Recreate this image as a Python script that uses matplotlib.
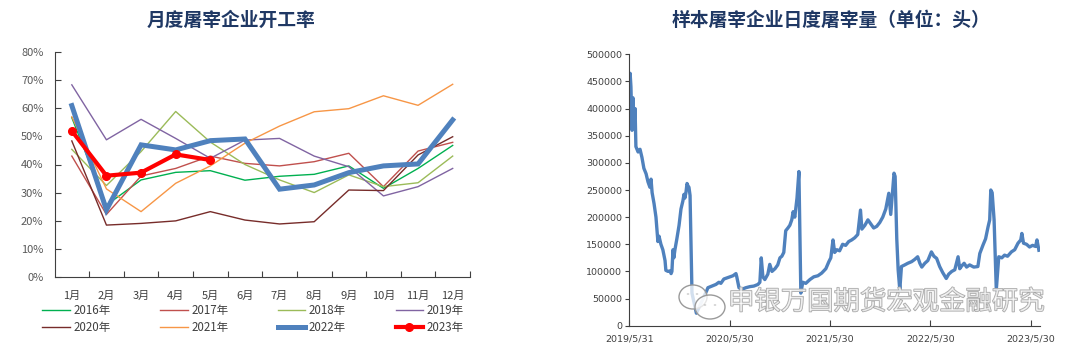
import matplotlib
matplotlib.use("Agg")
import matplotlib.pyplot as plt
import matplotlib.patheffects as pe
from matplotlib.patches import Ellipse, Circle
from matplotlib.ticker import FuncFormatter, MultipleLocator
import pandas as pd

plt.rcParams['font.family'] = ['Noto Sans CJK SC', 'DejaVu Sans']

# ---------------- data: left chart ----------------
months = ['1月', '2月', '3月', '4月', '5月', '6月', '7月', '8月', '9月', '10月', '11月', '12月']
y2016 = [56.7, 25.5, 34.5, 37.2, 37.8, 34.4, 35.8, 36.5, 39.5, 31.5, 38.6, 46.8]
y2017 = [43.0, 22.2, 35.9, 38.6, 43.0, 40.4, 39.5, 41.0, 44.0, 32.1, 44.8, 47.9]
y2018 = [45.4, 32.5, 44.6, 58.9, 48.0, 40.0, 34.5, 30.0, 36.3, 32.1, 33.5, 43.0]
y2019 = [68.4, 48.8, 56.1, 49.3, 42.2, 48.7, 49.3, 43.0, 39.2, 28.8, 32.1, 38.6]
y2020 = [48.4, 18.4, 19.0, 19.9, 23.2, 20.2, 18.8, 19.6, 30.9, 30.7, 43.4, 49.9]
y2021 = [57.0, 31.3, 23.2, 33.3, 39.5, 47.6, 53.7, 58.8, 59.9, 64.5, 61.1, 68.6]
y2022 = [61.0, 23.8, 47.0, 45.2, 48.5, 49.1, 31.2, 32.7, 37.1, 39.5, 40.2, 55.9]
y2023 = [52.0, 36.0, 37.1, 43.6, 41.6]
series_labels = ['2016年', '2017年', '2018年', '2019年', '2020年', '2021年', '2022年', '2023年']

# ---------------- data: right chart (days since 2019-05-31, heads) ----------------
start_date = '2019-05-31'
day_offsets = [0, 3, 6, 10, 13, 17, 21, 24, 32, 39, 46, 53, 61, 68, 75, 79, 83, 90, 97, 101,
               104, 108, 115, 122, 130, 133, 141, 148, 152, 155, 159, 162, 166, 173, 181, 188,
               195, 199, 202, 206, 210, 213, 217, 221, 228, 244, 282, 286, 300, 315, 326, 333,
               344, 355, 366, 377, 388, 391, 399, 409, 424, 439, 453, 468, 475, 480, 486, 493,
               504, 511, 519, 530, 540, 548, 555, 562, 569, 577, 584, 591, 596, 602, 610, 617,
               624, 631, 642, 657, 671, 686, 700, 715, 726, 733, 741, 747, 755, 765, 776, 787,
               798, 809, 820, 831, 841, 846, 857, 868, 878, 889, 900, 911, 922, 933, 944, 951,
               958, 963, 967, 973, 978, 984, 990, 1002, 1013, 1027, 1038, 1049, 1057, 1064,
               1075, 1086, 1099, 1108, 1118, 1129, 1140, 1153, 1162, 1173, 1184, 1196, 1202,
               1209, 1218, 1227, 1238, 1253, 1268, 1275, 1287, 1296, 1305, 1311, 1315, 1320,
               1327, 1335, 1344, 1355, 1365, 1376, 1390, 1402, 1414, 1424, 1428, 1434, 1445,
               1456, 1467, 1478, 1483, 1490]
slaughter = [455000, 465000, 440000, 360000, 420000, 370000, 400000, 330000, 320000, 325000,
             310000, 290000, 280000, 265000, 255000, 270000, 245000, 225000, 200000, 175000,
             155000, 165000, 150000, 140000, 120000, 102000, 100000, 101000, 96000, 100000,
             140000, 125000, 140000, 160000, 185000, 215000, 230000, 242000, 235000, 245000,
             262000, 258000, 255000, 240000, 60000, 23000, 65000, 70000, 73000, 76000, 80000,
             78000, 86000, 88000, 90000, 92000, 96000, 90000, 70000, 67000, 70000, 72000,
             73000, 76000, 80000, 125000, 90000, 85000, 95000, 113000, 100000, 105000, 112000,
             125000, 128000, 135000, 175000, 180000, 185000, 195000, 210000, 200000, 235000,
             284000, 60000, 80000, 78000, 85000, 90000, 92000, 97000, 105000, 118000, 125000,
             158000, 135000, 140000, 138000, 150000, 148000, 155000, 158000, 162000, 168000,
             213000, 178000, 185000, 195000, 188000, 180000, 183000, 190000, 200000, 215000,
             244000, 205000, 250000, 281000, 275000, 160000, 103000, 66000, 109000, 112000,
             115000, 118000, 122000, 127000, 115000, 108000, 115000, 120000, 136000, 128000,
             124000, 109000, 98000, 87000, 95000, 100000, 103000, 127000, 105000, 110000,
             115000, 108000, 112000, 108000, 109000, 133000, 149000, 160000, 182000, 195000,
             250000, 245000, 195000, 66000, 127000, 125000, 130000, 128000, 136000, 140000,
             152000, 158000, 170000, 152000, 150000, 145000, 148000, 146000, 158000, 139000]
right_ticks = ['2019-05-31', '2020-05-30', '2021-05-30', '2022-05-30', '2023-05-30']

# ---------------- figure ----------------
W, H = 1080, 352
fig = plt.figure(figsize=(W / 100, H / 100), dpi=100)
fig.patch.set_facecolor('white')

def fx(px):
    return px / W

def fy(py):
    return 1 - py / H

title_color = '#1F3864'
tick_color = '#595959'

# ---- left axes ----
axL = fig.add_axes([fx(54.5), fy(276.7), fx(470 - 54.5), (276.7 - 52.3) / H])
xs = list(range(len(months)))
colors = ['#00B050', '#C0504D', '#9BBB59', '#8064A2', '#772C2A', '#F79646', '#4F81BD', '#FF0000']
all_y = [y2016, y2017, y2018, y2019, y2020, y2021, y2022, y2023]
handles = []
for i, (yy, c, lab) in enumerate(zip(all_y, colors, series_labels)):
    if lab == '2022年':
        h, = axL.plot(xs[:len(yy)], yy, color=c, lw=3.6, label=lab, solid_joinstyle='miter', zorder=3)
    elif lab == '2023年':
        h, = axL.plot(xs[:len(yy)], yy, color=c, lw=3.0, marker='o', ms=5.5, label=lab, zorder=4)
    else:
        h, = axL.plot(xs[:len(yy)], yy, color=c, lw=1.0, label=lab, zorder=2)
    handles.append(h)

axL.set_xlim(-0.5, 11.5)
axL.set_ylim(0, 80)
axL.yaxis.set_major_locator(MultipleLocator(10))
axL.yaxis.set_major_formatter(FuncFormatter(lambda v, p: f'{int(round(v))}%'))
axL.set_xticks([x + 0.5 for x in xs])
axL.set_xticklabels([])
axL.set_xticks(xs, minor=True)
axL.set_xticklabels(months, minor=True)
axL.tick_params(axis='x', which='minor', length=0, pad=10, labelsize=8, labelcolor='#404040')
axL.tick_params(axis='x', which='major', direction='in', length=4, width=0.8, color='#404040')
axL.tick_params(axis='y', direction='in', length=4, width=0.8, color='#404040', labelsize=8,
                labelcolor=tick_color, pad=8)
for s in ['top', 'right']:
    axL.spines[s].set_visible(False)
for s in ['left', 'bottom']:
    axL.spines[s].set_color('#404040')
    axL.spines[s].set_linewidth(0.8)

order = [0, 4, 1, 5, 2, 6, 3, 7]
leg = fig.legend([handles[i] for i in order], [series_labels[i] for i in order],
                 loc='upper left', bbox_to_anchor=(fx(42), fy(304)), ncol=4, frameon=False,
                 fontsize=8.3, handlelength=2.4, handletextpad=0.3, columnspacing=4.3,
                 labelspacing=0.35, borderpad=0, borderaxespad=0)
for t in leg.get_texts():
    t.set_color('#404040')

fig.text(fx(231), fy(20), '月度屠宰企业开工率', ha='center', va='center', fontsize=13.5,
         fontweight='bold', color=title_color)

# ---- right axes ----
axR = fig.add_axes([fx(629.3), fy(325.7), fx(1040 - 629.3), (325.7 - 54.3) / H])
base = pd.Timestamp(start_date)
dates = [base + pd.Timedelta(days=d) for d in day_offsets]
axR.plot(dates, slaughter, color='#4F81BD', lw=2.4, solid_joinstyle='round', zorder=2)
axR.set_ylim(0, 500000)
axR.yaxis.set_major_locator(MultipleLocator(50000))
axR.yaxis.set_major_formatter(FuncFormatter(lambda v, p: f'{int(v)}'))
axR.set_xlim(base, base + pd.Timedelta(days=1494))
tick_dates = [pd.Timestamp(t) for t in right_ticks]
axR.set_xticks(tick_dates)
axR.set_xticklabels([f'{t.year}/{t.month}/{t.day}' for t in tick_dates])
axR.tick_params(axis='x', direction='in', length=4, width=0.8, color='#404040', labelsize=7.5,
                labelcolor='#404040', pad=6)
axR.tick_params(axis='y', direction='out', length=3, width=0.8, color='#404040', labelsize=7.5,
                labelcolor='#404040', pad=2)
for lbl in axR.get_xticklabels() + axR.get_yticklabels():
    lbl.set_family(['DejaVu Sans'])
    lbl.set_fontsize(6.8)
for s in ['top', 'right']:
    axR.spines[s].set_visible(False)
for s in ['left', 'bottom']:
    axR.spines[s].set_color('#404040')
    axR.spines[s].set_linewidth(0.8)

fig.text(fx(831), fy(20), '样本屠宰企业日度屠宰量（单位：头）', ha='center', va='center',
         fontsize=13.5, fontweight='bold', color=title_color)

# ---- watermark ----
for cx, cy, w, h in [(693, 297, 28, 24), (710, 307, 30, 24)]:
    e = Ellipse((fx(cx), fy(cy)), fx(w), h / H, transform=fig.transFigure,
                facecolor=(1, 1, 1, 0.75), edgecolor='#9a9a9a', lw=1.0, zorder=10)
    fig.patches.append(e)
for cx, cy in [(688, 294), (697, 294), (705, 305), (715, 305)]:
    fig.patches.append(Circle((fx(cx), fy(cy)), 1.3 / W, transform=fig.transFigure,
                              facecolor='#9a9a9a', edgecolor='none', zorder=11))
wm = fig.text(fx(728), fy(302), '申银万国期货宏观金融研究', ha='left', va='center', fontsize=19,
              color=(1, 1, 1, 0.6), zorder=12)
wm.set_path_effects([pe.Stroke(linewidth=1.0, foreground='#a6a6a6'), pe.Normal()])

fig.savefig('out.png', dpi=100)
